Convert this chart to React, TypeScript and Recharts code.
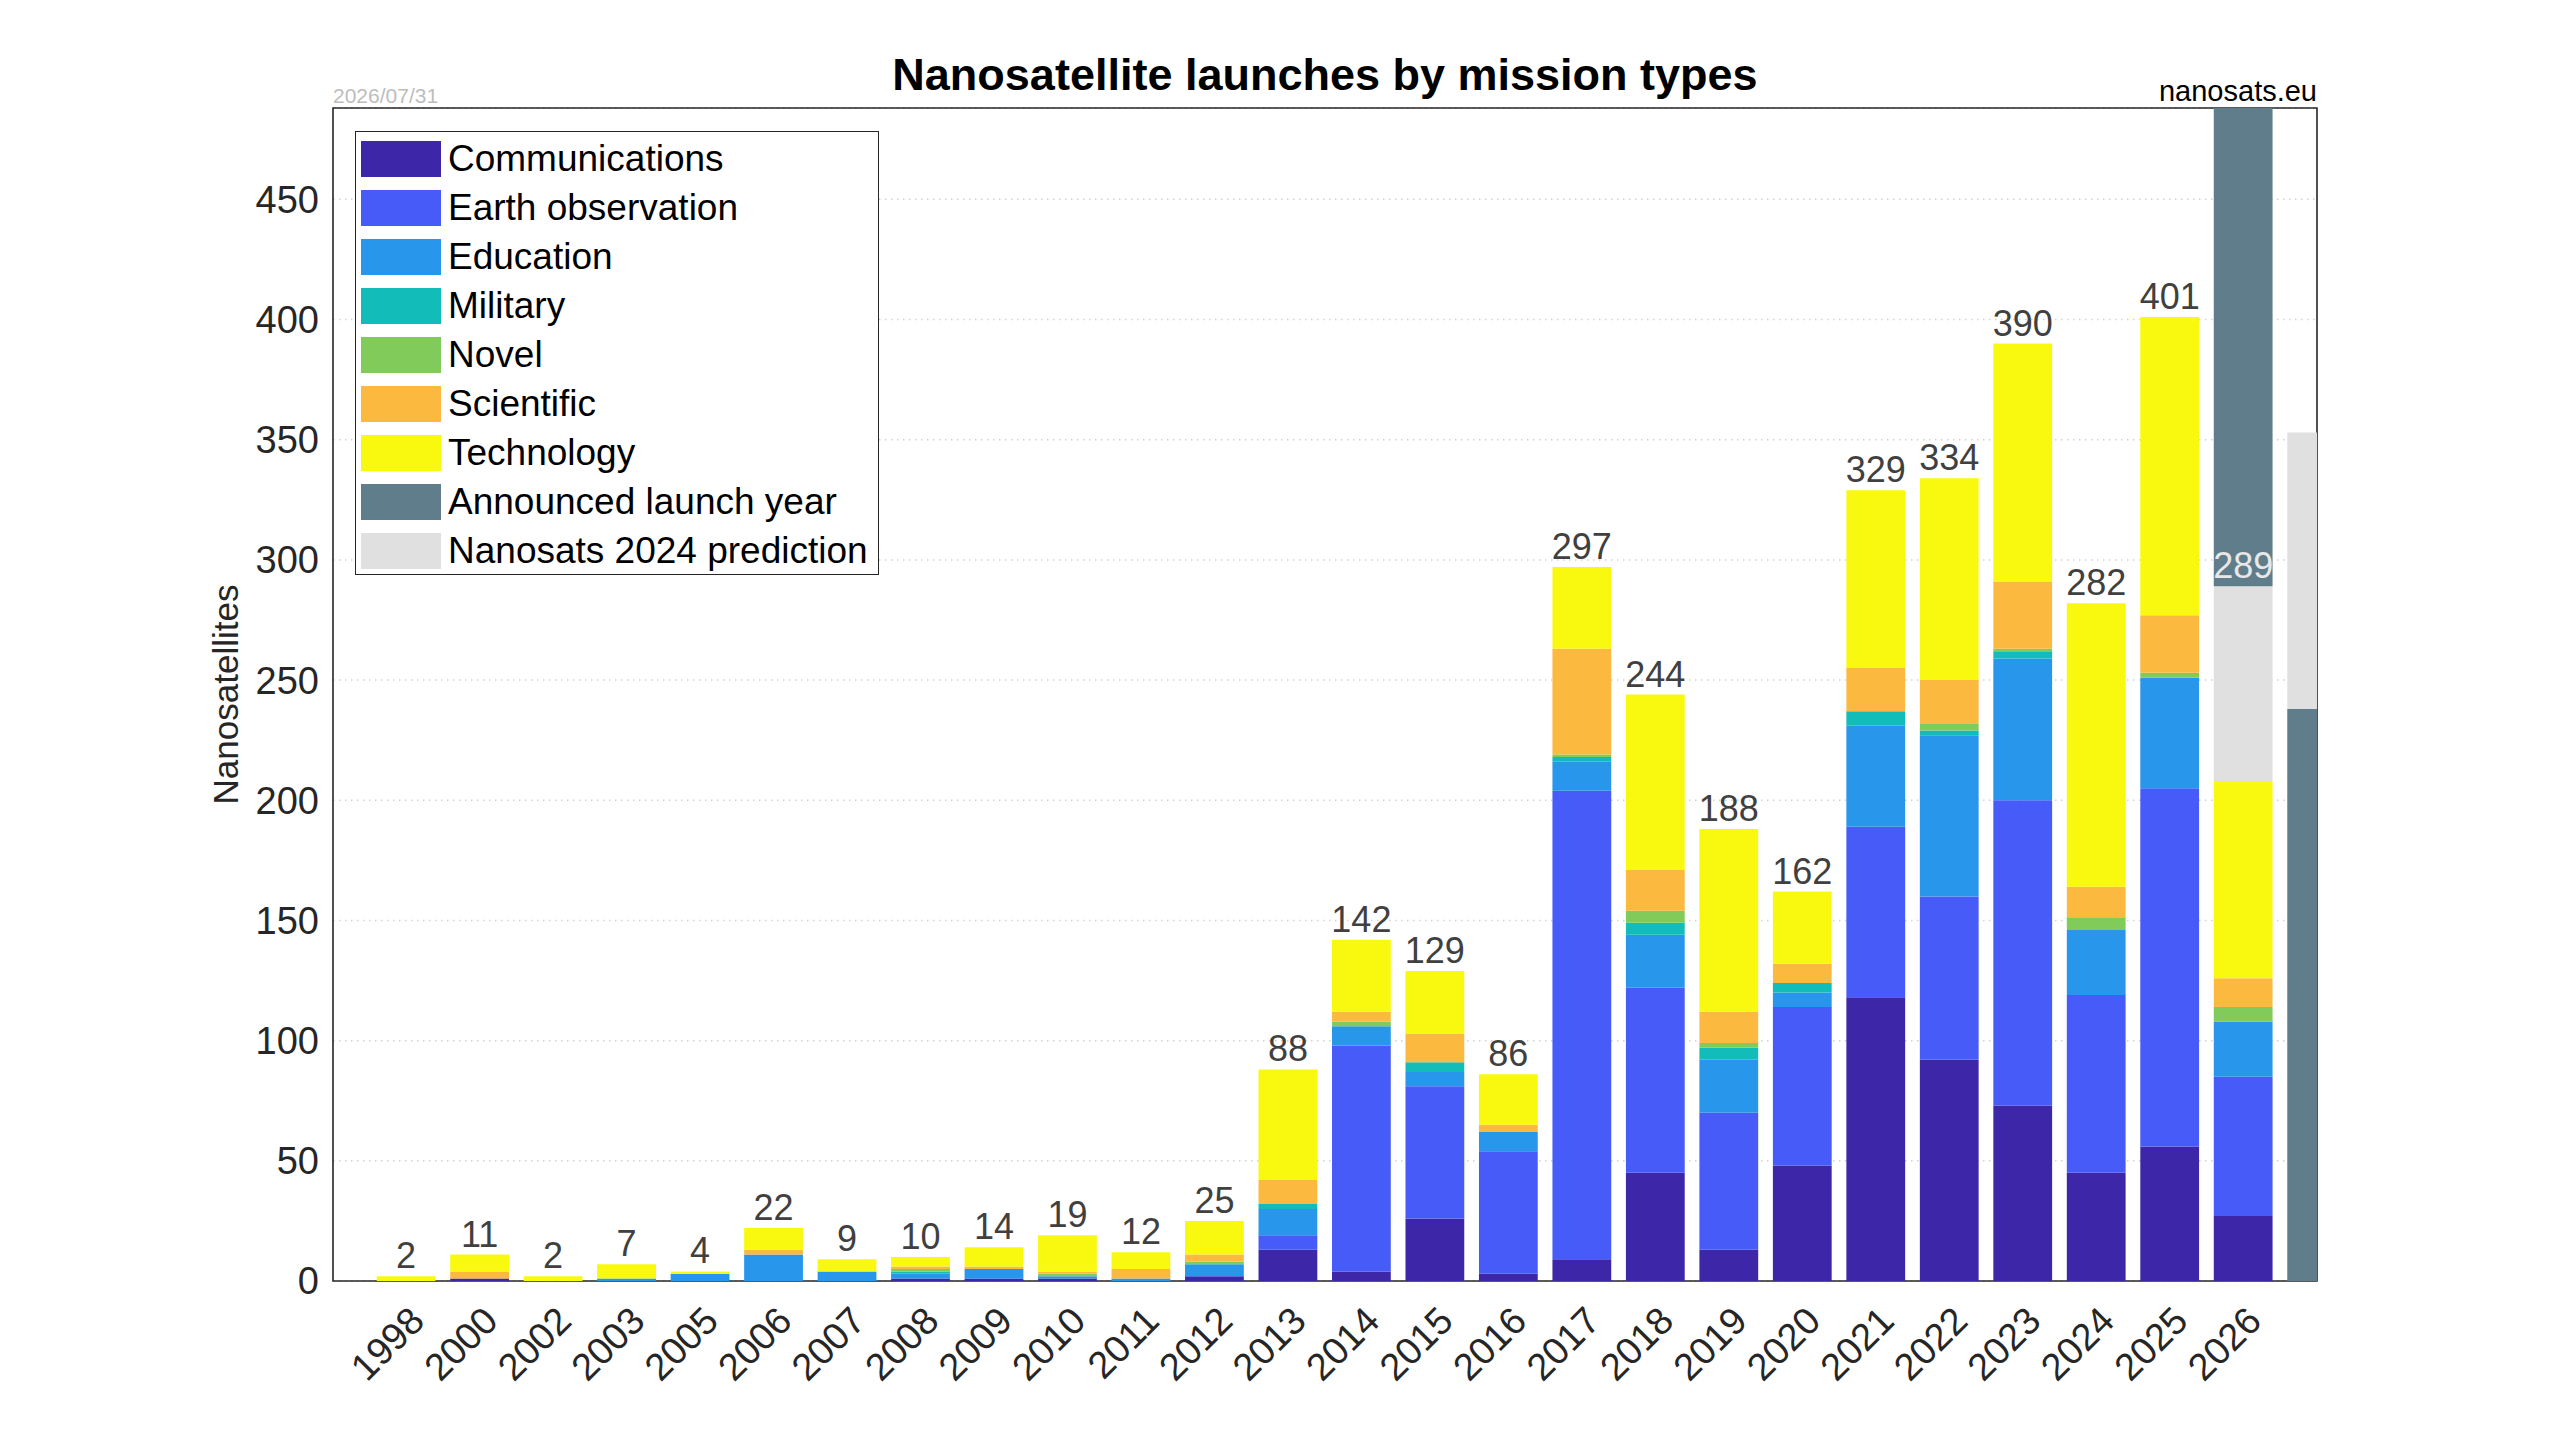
import React from 'react';
import { BarChart, Bar, XAxis, YAxis, CartesianGrid, LabelList, ReferenceArea } from 'recharts';

const FONT = '"Liberation Sans", Arial, Helvetica, sans-serif';

// Categories (last, unlabeled slot is next year's announced/prediction bar)
const years = ['1998', '2000', '2002', '2003', '2005', '2006', '2007', '2008', '2009', '2010', '2011', '2012', '2013', '2014', '2015', '2016', '2017', '2018', '2019', '2020', '2021', '2022', '2023', '2024', '2025', '2026', ''];

const communications = [0, 1, 0, 0, 0, 0, 0, 1, 1, 1, 0, 2, 13, 4, 26, 3, 9, 45, 13, 48, 118, 92, 73, 45, 56, 27, 0];
const earthObservation = [0, 0, 0, 0, 0, 0, 0, 0, 0, 0, 0, 0, 6, 94, 55, 51, 195, 77, 57, 66, 71, 68, 127, 74, 149, 58, 0];
const education = [0, 0, 0, 1, 3, 11, 4, 2, 4, 1, 1, 5, 11, 8, 6, 8, 12, 22, 22, 6, 42, 67, 59, 27, 46, 23, 0];
const military = [0, 0, 0, 0, 0, 0, 0, 1, 0, 0, 0, 0, 2, 0, 4, 0, 2, 5, 5, 4, 6, 2, 3, 0, 0, 0, 0];
const novel = [0, 0, 0, 0, 0, 0, 0, 1, 0, 1, 0, 1, 0, 2, 0, 0, 1, 5, 2, 0, 0, 3, 1, 5, 2, 6, 0];
const scientific = [0, 3, 0, 0, 0, 2, 0, 1, 1, 1, 4, 3, 10, 4, 12, 3, 44, 17, 13, 8, 18, 18, 28, 13, 24, 12, 0];
const technology = [2, 7, 2, 6, 1, 9, 5, 4, 8, 15, 7, 14, 46, 30, 26, 21, 34, 73, 76, 30, 74, 84, 99, 118, 124, 82, 0];
const announcedBelow = [0, 0, 0, 0, 0, 0, 0, 0, 0, 0, 0, 0, 0, 0, 0, 0, 0, 0, 0, 0, 0, 0, 0, 0, 0, 0, 238];
const prediction = [0, 0, 0, 0, 0, 0, 0, 0, 0, 0, 0, 0, 0, 0, 0, 0, 0, 0, 0, 0, 0, 0, 0, 0, 0, 81, 115];
const announcedAbove = [0, 0, 0, 0, 0, 0, 0, 0, 0, 0, 0, 0, 0, 0, 0, 0, 0, 0, 0, 0, 0, 0, 0, 0, 0, 300, 0];
const totalLabels = [2, 11, 2, 7, 4, 22, 9, 10, 14, 19, 12, 25, 88, 142, 129, 86, 297, 244, 188, 162, 329, 334, 390, 282, 401, 289, null];

const yTicks = [0, 50, 100, 150, 200, 250, 300, 350, 400, 450];
const yMax = 488;

const seriesNames = ['Communications', 'Earth observation', 'Education', 'Military', 'Novel', 'Scientific', 'Technology', 'Announced launch year', 'Nanosats 2024 prediction'];
const seriesColors = ['#3d26a8', '#475bf8', '#2796eb', '#12bdb9', '#80cb59', '#fcb940', '#f9f90f', '#607d8b', '#e0e0e0'];

const rows = years.map((year, i) => ({
  idx: i,
  year,
  communications: communications[i],
  earthObservation: earthObservation[i],
  education: education[i],
  military: military[i],
  novel: novel[i],
  scientific: scientific[i],
  technology: technology[i],
  announcedBelow: announcedBelow[i],
  prediction: prediction[i],
  announcedAbove: announcedAbove[i],
  // total label sits on the technology segment unless a prediction segment tops it
  labelOnTech: prediction[i] > 0 ? null : totalLabels[i],
  labelOnPrediction: prediction[i] > 0 && announcedBelow[i] === 0 ? totalLabels[i] : null,
}));

const xTicks = years.filter((y) => y !== '').map((_, i) => i);

const W = 2560;
const H = 1440;
const PLOT_LEFT = 333;
const PLOT_RIGHT = 2317;
const PLOT_TOP = 108;
const PLOT_BOTTOM = 1281;
const Y_AXIS_W = 120;
const X_AXIS_H = 140;
const xMin = -1;
const xMax = years.length - 1;
const barSize = ((PLOT_RIGHT - PLOT_LEFT) / (xMax - xMin)) * 0.8;

const XTick = (props: any) => {
  const { x, y, payload } = props;
  const ax = x + 20;
  const ay = y + 42;
  return (
    <text x={ax} y={ay} transform={`rotate(-45, ${ax}, ${ay})`} textAnchor="end" fontSize={38} fill="#262626" fontFamily={FONT}>
      {years[payload.value]}
    </text>
  );
};

const makeTotalLabel = (fill: string) => (props: any) => {
  const { value } = props;
  if (value === null || value === undefined || value === '') return null;
  const vb = props.viewBox && props.viewBox.x !== undefined ? props.viewBox : props;
  const cx = vb.x + vb.width / 2;
  const ty = vb.y - 8;
  return (
    <text x={cx} y={ty} textAnchor="middle" fontSize={36} fill={fill} fontFamily={FONT}>
      {value}
    </text>
  );
};

const darkLabel = makeTotalLabel('#404040');
const lightLabel = makeTotalLabel('#e8e8e8');

const stackKeys = ['communications', 'earthObservation', 'education', 'military', 'novel', 'scientific'];

export default function App() {
  return (
    <div style={{ position: 'absolute', left: 0, top: 0, width: W, height: H, background: '#fff', fontFamily: FONT }}>
      <BarChart
        width={W}
        height={H}
        data={rows}
        margin={{ top: PLOT_TOP, right: W - PLOT_RIGHT, bottom: H - PLOT_BOTTOM - X_AXIS_H, left: PLOT_LEFT - Y_AXIS_W }}
      >
        <CartesianGrid vertical={false} stroke="#d2d2d2" strokeWidth={1.5} strokeDasharray="1.5 4.5" />
        <XAxis
          dataKey="idx"
          type="number"
          domain={[xMin, xMax]}
          allowDataOverflow
          ticks={xTicks}
          interval={0}
          tick={<XTick />}
          tickLine={false}
          axisLine={false}
          height={X_AXIS_H}
          tickSize={0}
          tickMargin={0}
        />
        <YAxis
          type="number"
          domain={[0, yMax]}
          allowDataOverflow
          ticks={yTicks}
          interval={0}
          tickLine={false}
          axisLine={false}
          width={Y_AXIS_W}
          tickSize={0}
          tickMargin={14}
          tick={{ fontSize: 38, fill: '#262626', fontFamily: FONT }}
        />
        {stackKeys.map((k, i) => (
          <Bar key={k} dataKey={k} stackId="s" fill={seriesColors[i]} barSize={barSize} isAnimationActive={false} />
        ))}
        <Bar dataKey="technology" stackId="s" fill={seriesColors[6]} barSize={barSize} isAnimationActive={false}>
          <LabelList dataKey="labelOnTech" content={darkLabel} />
        </Bar>
        <Bar dataKey="announcedBelow" stackId="s" fill={seriesColors[7]} barSize={barSize} isAnimationActive={false} />
        <Bar dataKey="prediction" stackId="s" fill={seriesColors[8]} barSize={barSize} isAnimationActive={false}>
          <LabelList dataKey="labelOnPrediction" content={lightLabel} />
        </Bar>
        <Bar dataKey="announcedAbove" stackId="s" fill={seriesColors[7]} barSize={barSize} isAnimationActive={false} />
        <ReferenceArea x1={xMin} x2={xMax} y1={0} y2={yMax} fill="none" fillOpacity={0} stroke="#262626" strokeWidth={1.6} ifOverflow="visible" />
      </BarChart>

      <svg width={W} height={H} style={{ position: 'absolute', left: 0, top: 0, pointerEvents: 'none' }}>
        <text x={(PLOT_LEFT + PLOT_RIGHT) / 2} y={90} textAnchor="middle" fontSize={45} fontWeight="bold" fill="#000" fontFamily={FONT}>
          Nanosatellite launches by mission types
        </text>
        <text x={PLOT_LEFT} y={103} fontSize={21} fill="#bdbdbd" fontFamily={FONT}>
          2026/07/31
        </text>
        <text x={PLOT_RIGHT} y={101} textAnchor="end" fontSize={29} fill="#000" fontFamily={FONT}>
          nanosats.eu
        </text>
        <text x={238} y={(PLOT_TOP + PLOT_BOTTOM) / 2} transform={`rotate(-90, 238, ${(PLOT_TOP + PLOT_BOTTOM) / 2})`} textAnchor="middle" fontSize={35} fill="#262626" fontFamily={FONT}>
          Nanosatellites
        </text>
      </svg>

      <div
        style={{
          position: 'absolute',
          left: 355,
          top: 131,
          width: 524,
          height: 444,
          boxSizing: 'border-box',
          border: '1.5px solid #262626',
          background: '#fff',
        }}
      >
        {seriesNames.map((name, i) => (
          <div key={name} style={{ position: 'absolute', left: 5, top: 9 + i * 49, height: 36, display: 'flex', alignItems: 'center' }}>
            <div style={{ width: 80, height: 36, background: seriesColors[i] }} />
            <span style={{ marginLeft: 7, fontSize: 37, color: '#000', fontFamily: FONT, lineHeight: '36px', whiteSpace: 'nowrap' }}>{name}</span>
          </div>
        ))}
      </div>
    </div>
  );
}
